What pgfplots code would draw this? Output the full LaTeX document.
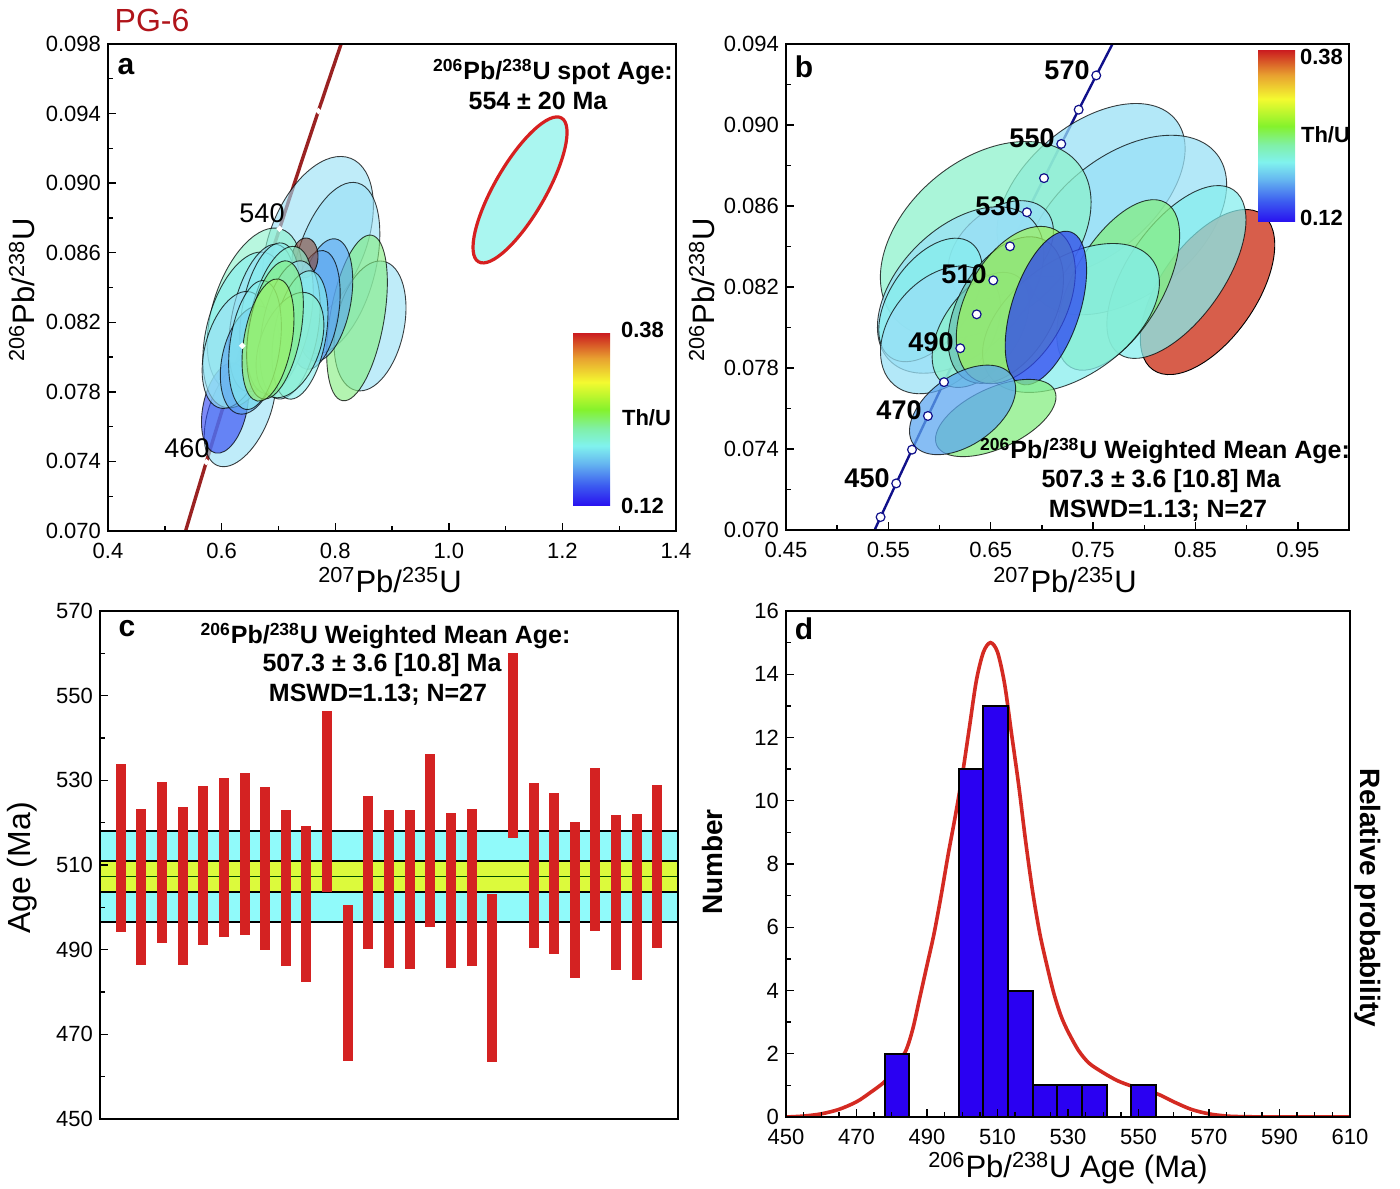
\documentclass[border=0pt]{standalone}
\usepackage{fontspec}
\setmainfont{Liberation Sans}
\usepackage{pgfplots}
\usepackage{pgfplotstable}
\pgfplotsset{compat=1.18}

\definecolor{conca}{HTML}{9A2222}
\definecolor{concb}{HTML}{10108A}
\definecolor{pgred}{HTML}{B0141A}
\definecolor{spotfill}{HTML}{AAF6F0}
\definecolor{spotedge}{HTML}{D62020}
\definecolor{elb}{HTML}{98E0F6}
\definecolor{ecy}{HTML}{86EEEE}
\definecolor{emint}{HTML}{8CF2CC}
\definecolor{egreen}{HTML}{84EE80}
\definecolor{eygreen}{HTML}{9CF060}
\definecolor{eblue}{HTML}{5CA6F0}
\definecolor{edblue}{HTML}{2E44F2}
\definecolor{ebrown}{HTML}{8A4636}
\definecolor{ered}{HTML}{D4503C}
\definecolor{eteal}{HTML}{6CC4B4}
\definecolor{barred}{HTML}{D42222}
\definecolor{bandcyan}{HTML}{90FAFA}
\definecolor{bandyellow}{HTML}{DCFA3C}
\definecolor{histblue}{HTML}{2A00F2}
\definecolor{pdfred}{HTML}{D42A22}
\definecolor{cb1}{HTML}{2810F0}
\definecolor{cb2}{HTML}{3C5CF0}
\definecolor{cb3}{HTML}{66B8F0}
\definecolor{cb4}{HTML}{80F2EE}
\definecolor{cb5}{HTML}{80F0A8}
\definecolor{cb6}{HTML}{84F22C}
\definecolor{cb7}{HTML}{F4FA30}
\definecolor{cb8}{HTML}{E8A030}
\definecolor{cb9}{HTML}{CC2020}

% tikz fits the middle 50bp of the shading to the path
\pgfdeclareverticalshading{thu}{100bp}{color(0bp)=(cb1); color(25bp)=(cb1); color(31bp)=(cb2); color(37.5bp)=(cb3); color(42.5bp)=(cb4); color(47.5bp)=(cb5); color(53bp)=(cb6); color(61bp)=(cb7); color(68bp)=(cb8); color(75bp)=(cb9); color(100bp)=(cb9)}

\newcommand{\fsz}[1]{\fontsize{#1}{#1}\selectfont}
\newcommand{\iso}[1]{\textsuperscript{#1}}
\newcommand{\eop}{0.62}
% centre x, centre y, semi-axes (pt), angle, colour
\newcommand{\ellip}[6]{\filldraw[fill=#6, fill opacity=\eop, draw=black, draw opacity=0.75, line width=0.45pt, rotate around={#5:(axis cs:#1,#2)}] (axis cs:#1,#2) ellipse [x radius=#3pt, y radius=#4pt];}

\pgfplotsset{
  panel/.style={scale only axis, anchor=south west,
    axis line style={line width=1.3pt}, tick style={black, line width=0.7pt},
    major tick length=4pt, minor tick length=2.5pt, tick pos=left, tick align=inside,
    axis on top, scaled ticks=false,
    tick label style={font=\fsz{11}}, /pgf/number format/assume math mode=true},
}

% concordia: age (Ma), 207Pb/235U, 206Pb/238U
\pgfplotstableread{
t x y
420 0.51231 0.067322
430 0.52728 0.068978
440 0.54239 0.070638
450 0.55766 0.072301
460 0.57307 0.073966
470 0.58864 0.075632
480 0.60436 0.077302
490 0.62024 0.078975
500 0.63628 0.080650
510 0.65247 0.082327
520 0.66883 0.084008
530 0.68535 0.085690
540 0.70203 0.087376
550 0.71888 0.089064
560 0.73590 0.090755
570 0.75308 0.092448
580 0.77043 0.094144
590 0.78796 0.095843
600 0.80565 0.097544
610 0.82352 0.099248
}\concordia

% spot ages, low and high ends of the bars
\pgfplotstableread{
i lo hi
1 494.2 533.9
2 486.3 523.2
3 491.5 529.5
4 486.5 523.8
5 491.1 528.6
6 492.9 530.5
7 493.5 531.8
8 489.9 528.4
9 486.1 523.1
10 482.4 519.1
11 503.7 546.4
12 463.8 500.5
13 490.1 526.3
14 485.7 523.1
15 485.4 523.0
16 495.4 536.3
17 485.7 522.4
18 486.2 523.3
19 463.4 503.1
20 516.5 560.0
21 490.5 529.4
22 489.1 527.0
23 483.4 520.1
24 494.4 532.8
25 485.2 521.8
26 482.8 522.1
27 490.3 528.8
}\spots

\begin{document}
\begin{tikzpicture}

% ---------------- a ----------------
\begin{axis}[panel, at={(54pt,328.5pt)}, width=284pt, height=243.5pt,
  xmin=0.4, xmax=1.4, ymin=0.070, ymax=0.098,
  xtick={0.4,0.6,0.8,1.0,1.2,1.4}, minor x tick num=1,
  ytick={0.070,0.074,0.078,0.082,0.086,0.090,0.094,0.098}, minor y tick num=1,
  x tick label style={yshift=-2.5pt, /pgf/number format/.cd, fixed, fixed zerofill, precision=1},
  y tick label style={/pgf/number format/.cd, fixed, fixed zerofill, precision=3}]
\addplot[conca, line width=1.7pt, mark=*, mark size=0.45pt, mark repeat=4, mark phase=3,
  mark options={fill=white, draw=white}] table[x=x, y=y] {\concordia};
\ellip{0.7697}{0.08673}{44}{24}{68}{elb}
\ellip{0.7996}{0.08512}{44}{20}{75}{elb}
\ellip{0.6588}{0.08271}{42.5}{21}{72}{emint}
\ellip{0.8613}{0.08179}{33}{17}{78}{elb}
\ellip{0.8384}{0.08225}{42}{13.5}{80}{egreen}
\ellip{0.6324}{0.07696}{30}{15}{68}{elb}
\ellip{0.6060}{0.07707}{23}{11}{78}{edblue}
\ellip{0.6412}{0.08156}{40}{19}{75}{ecy}
\ellip{0.7820}{0.08328}{31}{13}{80}{eblue}
\ellip{0.7644}{0.08271}{30}{12}{82}{eblue}
\ellip{0.7468}{0.08570}{10}{6.5}{85}{ebrown}
\ellip{0.6711}{0.08225}{37.5}{15}{78}{elb}
\ellip{0.6852}{0.08259}{35}{14}{80}{ecy}
\ellip{0.6236}{0.08041}{30}{15}{75}{elb}
\ellip{0.6500}{0.07983}{27.5}{14}{78}{eblue}
\ellip{0.7028}{0.08213}{37.5}{15}{78}{emint}
\ellip{0.7204}{0.08156}{35}{14}{80}{elb}
\ellip{0.7380}{0.08127}{32.5}{13}{80}{ecy}
\ellip{0.7204}{0.08069}{27.5}{15}{70}{emint}
\ellip{0.6588}{0.08069}{32.5}{12.5}{82}{ecy}
\ellip{0.6940}{0.08156}{35}{13}{80}{egreen}
\ellip{0.6817}{0.08098}{31}{12}{80}{eygreen}
\filldraw[fill=spotfill, draw=spotedge, line width=1.6pt, rotate around={60:(axis cs:1.1254,0.08961)}] (axis cs:1.1254,0.08961) ellipse [x radius=41.5pt, y radius=12.75pt];
\end{axis}

% ---------------- b ----------------
\renewcommand{\eop}{0.74}
\begin{axis}[panel, at={(393pt,329pt)}, width=281.5pt, height=243pt,
  xmin=0.45, xmax=1.0, ymin=0.070, ymax=0.094,
  xtick={0.45,0.55,0.65,0.75,0.85,0.95}, minor x tick num=1,
  ytick={0.070,0.074,0.078,0.082,0.086,0.090,0.094}, minor y tick num=1,
  x tick label style={yshift=-2.5pt, /pgf/number format/.cd, fixed, fixed zerofill, precision=2},
  y tick label style={/pgf/number format/.cd, fixed, fixed zerofill, precision=3}]
\addplot[concb, line width=1.2pt, mark=*, mark size=2.2pt,
  mark options={fill=white, draw=concb, line width=0.6pt}] table[x=x, y=y] {\concordia};
\ellip{0.7480}{0.08679}{55}{32.5}{40}{elb}
\ellip{0.7824}{0.08506}{57.5}{35}{38}{elb}
\ellip{0.6451}{0.08432}{60}{40}{40}{emint}
\filldraw[fill=ered, fill opacity=0.92, draw=black, line width=0.45pt, rotate around={55:(axis cs:0.8618,0.08175)}] (axis cs:0.8618,0.08175) ellipse [x radius=47.5pt, y radius=24pt];
\ellip{0.8314}{0.08274}{50}{24}{55}{ecy}
\ellip{0.6598}{0.08383}{30}{20}{40}{elb}
\ellip{0.6206}{0.08185}{50}{31}{45}{elb}
\ellip{0.5912}{0.08136}{35}{20}{55}{ecy}
\ellip{0.6010}{0.07988}{36}{25}{50}{elb}
\ellip{0.6402}{0.07988}{32.5}{19}{55}{emint}
\ellip{0.7745}{0.08210}{47.5}{22.5}{60}{egreen}
\ellip{0.7284}{0.08047}{50}{29}{35}{ecy}
\ellip{0.6647}{0.08086}{40}{24}{60}{eteal}
\ellip{0.6745}{0.08111}{42.5}{25}{62}{eygreen}
\ellip{0.7039}{0.08096}{40}{17}{72}{edblue}
\ellip{0.6549}{0.07553}{32.5}{15}{25}{egreen}
\ellip{0.6225}{0.07593}{30}{17.5}{35}{eblue}
\end{axis}

% ---------------- c ----------------
\begin{axis}[panel, at={(50pt,34.5pt)}, width=289pt, height=254pt,
  xmin=0, xmax=28, ymin=450, ymax=570, xtick=\empty,
  ytick={450,470,...,570}, minor y tick num=1]
\addplot[fill=bandcyan, draw=black, line width=1.1pt] coordinates {(0,496.5) (28,496.5) (28,518.1) (0,518.1) (0,496.5)};
\addplot[fill=bandyellow, draw=black, line width=1.1pt] coordinates {(0,503.7) (28,503.7) (28,510.9) (0,510.9) (0,503.7)};
\addplot[black!70!green, line width=0.8pt] coordinates {(0,507.3) (28,507.3)};
\addplot[draw=none, error bars/.cd, y dir=both, y explicit, error mark=none,
  error bar style={line width=5pt, barred, solid}]
  table[x=i, y expr={(\thisrow{lo}+\thisrow{hi})/2}, y error expr={(\thisrow{hi}-\thisrow{lo})/2}] {\spots};
\end{axis}

% ---------------- d ----------------
\begin{axis}[panel, at={(393pt,35.5pt)}, width=282pt, height=253pt,
  xmin=450, xmax=610, ymin=0, ymax=16,
  xtick={450,470,...,610}, minor x tick num=3,
  x tick label style={yshift=-2.5pt},
  ytick={0,2,...,16}, minor y tick num=1]
\addplot[pdfred, line width=1.8pt, smooth] coordinates {
(450,0) (455,0.03) (460,0.1) (465,0.24) (470,0.48) (474,0.78) (478,1.12) (481,1.55)
(484,2.1) (486,2.8) (488,3.8) (490,4.8) (492,5.8) (494,7.0) (496,8.3) (498,9.5)
(500,10.8) (502,12.3) (504,13.8) (506,14.7) (508,15.0) (510,14.7) (512,13.7) (514,12.1)
(516,10.5) (518,8.7) (520,7.1) (522,5.8) (524,4.8) (526,3.9) (528,3.2) (530,2.7)
(533,2.1) (536,1.7) (540,1.4) (544,1.15) (548,0.98) (552,0.86) (556,0.7) (560,0.48)
(565,0.24) (570,0.1) (575,0.03) (580,0.01) (590,0) (610,0)};
\addplot[ybar interval, fill=histblue, draw=black, line width=1pt] coordinates {
(478,2) (485,0) (492,0) (499,11) (506,13) (513,4) (520,1) (527,1) (534,1) (541,0) (548,1) (555,0)};
\end{axis}

% ---------------- texts ----------------
\node[text=pgred, font=\fsz{16}] at (76pt,584pt) {PG-6};
\node[font=\fsz{15}\bfseries] at (63pt,560.5pt) {a};
\node[font=\fsz{12.5}\bfseries] at (276.5pt,558pt) {\iso{206}Pb/\iso{238}U spot Age:};
\node[font=\fsz{12.5}\bfseries] at (269pt,543.5pt) {554 ± 20 Ma};
\fill[shading=thu] (286.5pt,341pt) rectangle (305pt,427pt);
\node[anchor=west, font=\fsz{11}\bfseries] at (307pt,429pt) {0.38};
\node[anchor=west, font=\fsz{11}\bfseries] at (307.5pt,385pt) {Th/U};
\node[anchor=west, font=\fsz{11}\bfseries] at (307pt,341pt) {0.12};
\node[font=\fsz{13.5}] at (131pt,487.5pt) {540};
\node[font=\fsz{13.5}] at (93.5pt,370pt) {460};
\node[font=\fsz{15.5}] at (195pt,304pt) {\iso{207}Pb/\iso{235}U};
\node[font=\fsz{15.5}, rotate=90] at (11pt,449pt) {\iso{206}Pb/\iso{238}U};

\node[font=\fsz{15}\bfseries] at (402pt,560.5pt) {b};
\fill[shading=thu] (629pt,483pt) rectangle (647.5pt,568.5pt);
\node[anchor=west, font=\fsz{11}\bfseries] at (646.5pt,565.5pt) {0.38};
\node[anchor=west, font=\fsz{11}\bfseries] at (647pt,526.5pt) {Th/U};
\node[anchor=west, font=\fsz{11}\bfseries] at (646.5pt,485pt) {0.12};
\node[font=\fsz{13.5}\bfseries] at (533.5pt,559pt) {570};
\node[font=\fsz{13.5}\bfseries] at (516pt,525pt) {550};
\node[font=\fsz{13.5}\bfseries] at (499pt,491pt) {530};
\node[font=\fsz{13.5}\bfseries] at (482pt,457pt) {510};
\node[font=\fsz{13.5}\bfseries] at (465.5pt,423pt) {490};
\node[font=\fsz{13.5}\bfseries] at (449.5pt,389pt) {470};
\node[font=\fsz{13.5}\bfseries] at (433.5pt,355pt) {450};
\node[font=\fsz{12.5}\bfseries] at (582.5pt,368.5pt) {\iso{206}Pb/\iso{238}U Weighted Mean Age:};
\node[font=\fsz{12.5}\bfseries] at (580.5pt,353.5pt) {507.3 ± 3.6 [10.8] Ma};
\node[font=\fsz{12.5}\bfseries] at (579pt,338.5pt) {MSWD=1.13; N=27};
\node[font=\fsz{15.5}] at (532.5pt,304pt) {\iso{207}Pb/\iso{235}U};
\node[font=\fsz{15.5}, rotate=90] at (351pt,449pt) {\iso{206}Pb/\iso{238}U};

\node[font=\fsz{15}\bfseries] at (63.5pt,279.5pt) {c};
\node[font=\fsz{12.5}\bfseries] at (192.75pt,276pt) {\iso{206}Pb/\iso{238}U Weighted Mean Age:};
\node[font=\fsz{12.5}\bfseries] at (191pt,261.5pt) {507.3 ± 3.6 [10.8] Ma};
\node[font=\fsz{12.5}\bfseries] at (189pt,246.5pt) {MSWD=1.13; N=27};
\node[font=\fsz{16}, rotate=90] at (11pt,160pt) {Age (Ma)};

\node[font=\fsz{15}\bfseries] at (402pt,279.5pt) {d};
\node[font=\fsz{15.5}] at (534pt,10pt) {\iso{206}Pb/\iso{238}U Age (Ma)};
\node[font=\fsz{14}\bfseries, rotate=90] at (356pt,163pt) {Number};
\node[font=\fsz{14}\bfseries, rotate=-90] at (684pt,145pt) {Relative probability};

\pgfresetboundingbox
\path (0pt,0pt) rectangle (700pt,594pt);
\end{tikzpicture}
\end{document}
